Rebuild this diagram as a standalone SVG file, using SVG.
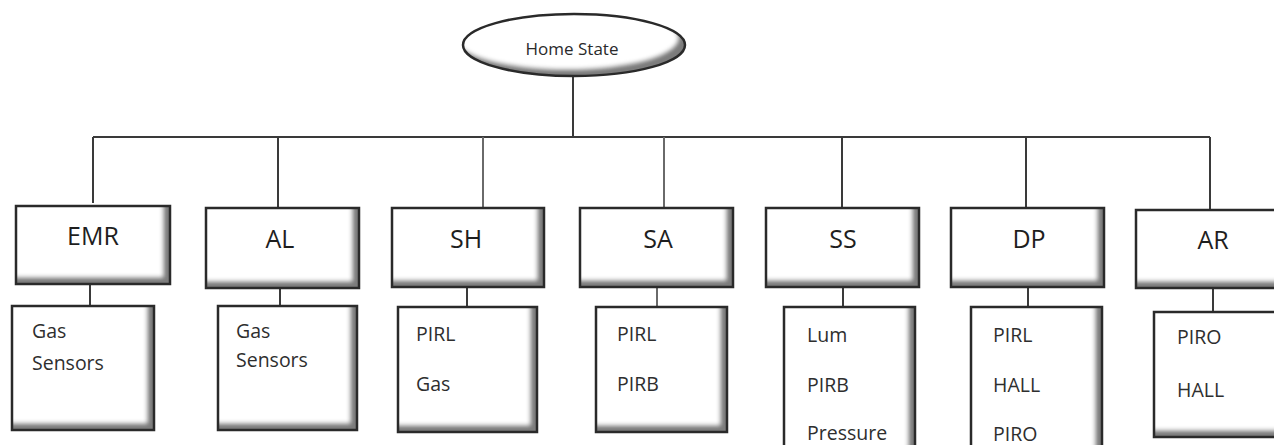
<svg xmlns="http://www.w3.org/2000/svg" width="1274" height="445" viewBox="0 0 1274 445">
<style>
  .box { fill: #ffffff; filter: url(#bevel); }
  .edge { fill: none; stroke: #2a2a2a; stroke-width: 2.5; }
  .conn { fill: none; stroke: #3a3a3a; stroke-width: 2; }
  .conn2 { fill: none; stroke: #6a6a6a; stroke-width: 2; }
  .head { font-family: "Open Sans", "Liberation Sans", sans-serif; font-size: 25px; fill: #1e1e1e; text-anchor: middle; }
  .item { font-family: "Open Sans", "Liberation Sans", sans-serif; font-size: 19.5px; fill: #2e2e2e; }
  .root { font-family: "Open Sans", "Liberation Sans", sans-serif; font-size: 17px; fill: #2a2a2a; text-anchor: middle; }
</style>
<defs>
  <filter id="bevel" x="-5%" y="-5%" width="110%" height="110%">
    <feOffset in="SourceAlpha" dx="-7" dy="-7" result="off"/>
    <feGaussianBlur in="off" stdDeviation="2.2" result="offb"/>
    <feComposite in="SourceAlpha" in2="offb" operator="out" result="band"/>
    <feFlood flood-color="#5e5e5e" flood-opacity="0.9"/>
    <feComposite in2="band" operator="in" result="shade"/>
    <feMerge><feMergeNode in="SourceGraphic"/><feMergeNode in="shade"/></feMerge>
  </filter>
</defs>
<rect width="1274" height="445" fill="#ffffff"/>

<g id="connectors">
  <path class="conn" d="M573 76 V137"/>
  <path class="conn" d="M93 137 H1210"/>
  <path class="conn" d="M93 137 V203"/>
  <path class="conn" d="M278 137 V208"/>
  <path class="conn2" d="M483 137 V208"/>
  <path class="conn2" d="M664 137 V208"/>
  <path class="conn" d="M842 137 V208"/>
  <path class="conn" d="M1026 137 V208"/>
  <path class="conn" d="M1210 137 V210"/>
  <path class="conn" d="M90 284 V309"/>
  <path class="conn" d="M280 288 V306"/>
  <path class="conn" d="M467 287 V307"/>
  <path class="conn2" d="M657 287 V307"/>
  <path class="conn" d="M843 287 V307"/>
  <path class="conn" d="M1028 287 V307"/>
  <path class="conn" d="M1213 288 V312"/>
</g>

<g id="home-state">
  <ellipse class="box" cx="574" cy="45" rx="111" ry="31"/>
  <ellipse class="edge" cx="574" cy="45" rx="111" ry="31"/>
  <text class="root" x="572" y="55">Home State</text>
</g>

<g id="emr">
  <rect class="box" x="16" y="206" width="154" height="78"/>
  <rect class="edge" x="16" y="206" width="154" height="78"/>
  <text class="head" x="93" y="245">EMR</text>
</g>
<g id="emr-sensors">
  <rect class="box" x="12" y="306" width="142" height="124"/>
  <rect class="edge" x="12" y="306" width="142" height="124"/>
  <text class="item" x="32" y="338">Gas</text>
  <text class="item" x="32" y="370">Sensors</text>
</g>

<g id="al">
  <rect class="box" x="206" y="208" width="153" height="80"/>
  <rect class="edge" x="206" y="208" width="153" height="80"/>
  <text class="head" x="280" y="248">AL</text>
</g>
<g id="al-sensors">
  <rect class="box" x="218" y="306" width="139" height="124"/>
  <rect class="edge" x="218" y="306" width="139" height="124"/>
  <text class="item" x="236" y="338">Gas</text>
  <text class="item" x="236" y="367">Sensors</text>
</g>

<g id="sh">
  <rect class="box" x="392" y="208" width="152" height="79"/>
  <rect class="edge" x="392" y="208" width="152" height="79"/>
  <text class="head" x="466" y="248">SH</text>
</g>
<g id="sh-sensors">
  <rect class="box" x="398" y="307" width="139" height="125"/>
  <rect class="edge" x="398" y="307" width="139" height="125"/>
  <text class="item" x="416" y="341">PIRL</text>
  <text class="item" x="416" y="391">Gas</text>
</g>

<g id="sa">
  <rect class="box" x="580" y="208" width="153" height="79"/>
  <rect class="edge" x="580" y="208" width="153" height="79"/>
  <text class="head" x="658" y="248">SA</text>
</g>
<g id="sa-sensors">
  <rect class="box" x="596" y="307" width="131" height="125"/>
  <rect class="edge" x="596" y="307" width="131" height="125"/>
  <text class="item" x="617" y="341">PIRL</text>
  <text class="item" x="617" y="391">PIRB</text>
</g>

<g id="ss">
  <rect class="box" x="766" y="208" width="153" height="79"/>
  <rect class="edge" x="766" y="208" width="153" height="79"/>
  <text class="head" x="843" y="248">SS</text>
</g>
<g id="ss-sensors">
  <rect class="box" x="784" y="307" width="131" height="160"/>
  <rect class="edge" x="784" y="307" width="131" height="160"/>
  <text class="item" x="807" y="342">Lum</text>
  <text class="item" x="807" y="392">PIRB</text>
  <text class="item" x="807" y="440">Pressure</text>
</g>

<g id="dp">
  <rect class="box" x="951" y="208" width="153" height="79"/>
  <rect class="edge" x="951" y="208" width="153" height="79"/>
  <text class="head" x="1029" y="248">DP</text>
</g>
<g id="dp-sensors">
  <rect class="box" x="971" y="307" width="131" height="160"/>
  <rect class="edge" x="971" y="307" width="131" height="160"/>
  <text class="item" x="993" y="342">PIRL</text>
  <text class="item" x="993" y="392">HALL</text>
  <text class="item" x="993" y="441">PIRO</text>
</g>

<g id="ar">
  <rect class="box" x="1136" y="210" width="154" height="78"/>
  <rect class="edge" x="1136" y="210" width="154" height="78"/>
  <text class="head" x="1213" y="249">AR</text>
</g>
<g id="ar-sensors">
  <rect class="box" x="1154" y="312" width="136" height="125"/>
  <rect class="edge" x="1154" y="312" width="136" height="125"/>
  <text class="item" x="1177" y="344">PIRO</text>
  <text class="item" x="1177" y="397">HALL</text>
</g>
</svg>
